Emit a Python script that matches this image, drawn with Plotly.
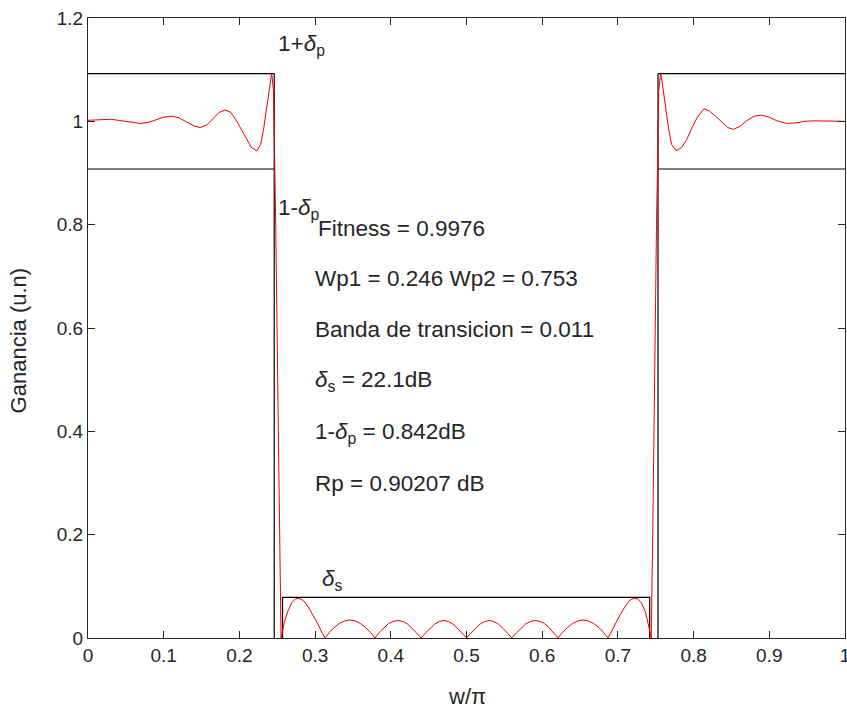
import plotly.graph_objects as go

# Frequency response magnitude
w_resp = [0.000, 0.010, 0.020, 0.030, 0.040, 0.050, 0.060, 0.069, 0.080, 0.090, 0.100, 0.110, 0.120, 0.130,
          0.140, 0.148, 0.157, 0.165, 0.173, 0.181, 0.188, 0.195, 0.202, 0.209, 0.216, 0.223, 0.228, 0.232,
          0.236, 0.239, 0.2426, 0.245, 0.248, 0.251, 0.253, 0.255,
          0.259, 0.264, 0.269, 0.274, 0.279, 0.285, 0.291, 0.297, 0.303, 0.308, 0.313,
          0.319, 0.325, 0.332, 0.339, 0.346, 0.353, 0.360, 0.367, 0.373, 0.379,
          0.385, 0.391, 0.397, 0.403, 0.409, 0.416, 0.422, 0.428, 0.434, 0.440,
          0.446, 0.452, 0.458, 0.464, 0.470, 0.476, 0.482, 0.488, 0.494, 0.500,
          0.506, 0.512, 0.518, 0.524, 0.530, 0.536, 0.542, 0.548, 0.554, 0.560,
          0.566, 0.572, 0.578, 0.584, 0.591, 0.597, 0.603, 0.609, 0.615, 0.621,
          0.627, 0.633, 0.640, 0.647, 0.654, 0.661, 0.668, 0.675, 0.681, 0.687,
          0.692, 0.697, 0.703, 0.709, 0.715, 0.721, 0.726, 0.731, 0.736, 0.740, 0.744,
          0.746, 0.748, 0.751, 0.754, 0.7565,
          0.760, 0.763, 0.767, 0.771, 0.777, 0.784, 0.791, 0.798, 0.805, 0.8137, 0.821, 0.829, 0.837, 0.845,
          0.8525, 0.861, 0.870, 0.880, 0.890, 0.900, 0.910, 0.923, 0.935, 0.947, 0.958, 0.970, 0.985, 1.000]
h_resp = [1.002, 1.003, 1.004, 1.004, 1.002, 1.000, 0.997, 0.996, 0.998, 1.003, 1.008, 1.010, 1.007, 0.999,
          0.991, 0.988, 0.993, 1.005, 1.017, 1.022, 1.018, 1.004, 0.985, 0.965, 0.949, 0.943, 0.955, 0.985,
          1.025, 1.062, 1.093, 1.060, 0.800, 0.450, 0.200, 0.000,
          0.028, 0.052, 0.068, 0.076, 0.077, 0.072, 0.060, 0.045, 0.029, 0.014, 0.000,
          0.011, 0.020, 0.028, 0.033, 0.035, 0.033, 0.028, 0.020, 0.011, 0.000,
          0.011, 0.020, 0.028, 0.032, 0.034, 0.032, 0.027, 0.019, 0.010, 0.000,
          0.010, 0.019, 0.027, 0.032, 0.034, 0.032, 0.027, 0.019, 0.010, 0.000,
          0.010, 0.019, 0.027, 0.032, 0.034, 0.032, 0.027, 0.019, 0.010, 0.000,
          0.010, 0.019, 0.027, 0.032, 0.034, 0.032, 0.028, 0.020, 0.011, 0.000,
          0.011, 0.020, 0.028, 0.033, 0.035, 0.033, 0.028, 0.020, 0.011, 0.000,
          0.014, 0.029, 0.045, 0.060, 0.072, 0.077, 0.076, 0.068, 0.052, 0.028, 0.000,
          0.200, 0.450, 0.800, 1.060, 1.093,
          1.060, 1.025, 0.985, 0.955, 0.943, 0.949, 0.965, 0.988, 1.008, 1.0245, 1.020, 1.010, 0.998, 0.988,
          0.9845, 0.990, 1.001, 1.010, 1.012, 1.008, 1.001, 0.996, 0.997, 1.000, 1.001, 1.001, 1.001, 1.000]

# Specification template
wp1, wp2 = 0.246, 0.753
ws1, ws2 = 0.257, 0.742
dp, ds = 0.0923, 0.0785

spec_x = [0, wp1, None, 0, wp1, None, wp1, wp1, None,
          ws1, ws1, ws2, ws2, None,
          wp2, wp2, None, wp2, 1, None, wp2, 1]
spec_y = [1 + dp, 1 + dp, None, 1 - dp, 1 - dp, None, 1 + dp, 0, None,
          0, ds, ds, 0, None,
          0, 1 + dp, None, 1 + dp, 1 + dp, None, 1 - dp, 1 - dp]

x_ticks = [0, 0.1, 0.2, 0.3, 0.4, 0.5, 0.6, 0.7, 0.8, 0.9, 1]
x_ticktext = ["0", "0.1", "0.2", "0.3", "0.4", "0.5", "0.6", "0.7", "0.8", "0.9", "1"]
y_ticks = [0, 0.2, 0.4, 0.6, 0.8, 1.0, 1.2]
y_ticktext = ["0", "0.2", "0.4", "0.6", "0.8", "1", "1.2"]

D = "<i>δ</i>"
# Text labels
labels = [
    (0.249, 1.147, "1+" + D + "<sub>p</sub>"),
    (0.249, 0.830, "1-" + D + "<sub>p</sub>"),
    (0.301, 0.793, "Fitness = 0.9976"),
    (0.297, 0.695, "Wp1 = 0.246 Wp2 = 0.753"),
    (0.297, 0.597, "Banda de transicion = 0.011"),
    (0.297, 0.497, D + "<sub>s</sub> = 22.1dB"),
    (0.297, 0.397, "1-" + D + "<sub>p</sub> = 0.842dB"),
    (0.297, 0.300, "Rp = 0.90207 dB"),
    (0.306, 0.113, D + "<sub>s</sub>"),
]

FONT = "Liberation Sans, Arial, sans-serif"
TXT = "#262626"

fig = go.Figure()
fig.add_trace(go.Scatter(x=spec_x, y=spec_y, mode="lines",
                         line=dict(color="black", width=1.2), connectgaps=False,
                         hoverinfo="skip", showlegend=False))
fig.add_trace(go.Scatter(x=w_resp, y=h_resp, mode="lines",
                         line=dict(color="#f00000", width=1), showlegend=False))

for x, y, t in labels:
    fig.add_annotation(x=x, y=y, xref="x", yref="y", text=t, showarrow=False,
                       xanchor="left", yanchor="middle",
                       font=dict(family=FONT, size=22.5, color=TXT))

fig.add_annotation(x=0.5, y=0, xref="paper", yref="paper", text="w/π", showarrow=False,
                   xanchor="center", yanchor="middle", yshift=-58,
                   font=dict(family=FONT, size=22, color=TXT))
fig.add_annotation(x=0, y=0.48, xref="paper", yref="paper", text="Ganancia (u.n)", showarrow=False,
                   xanchor="center", yanchor="middle", xshift=-70, textangle=-90,
                   font=dict(family=FONT, size=22, color=TXT))

axis_common = dict(showline=True, mirror="ticks", linecolor=TXT, linewidth=1,
                   ticks="inside", ticklen=7, tickcolor=TXT, tickwidth=1,
                   showgrid=False, zeroline=False, ticklabeloverflow="allow",
                   automargin=False,
                   tickfont=dict(family=FONT, size=19, color=TXT))
fig.update_xaxes(range=[0, 1], tickvals=x_ticks, ticktext=x_ticktext, **axis_common)
fig.update_yaxes(range=[0, 1.2], tickvals=y_ticks, ticktext=y_ticktext, **axis_common)

fig.update_layout(width=847, height=713, margin=dict(l=88, r=2, t=18, b=75, autoexpand=False),
                  paper_bgcolor="white", plot_bgcolor="white")

fig.write_html("out.html")
